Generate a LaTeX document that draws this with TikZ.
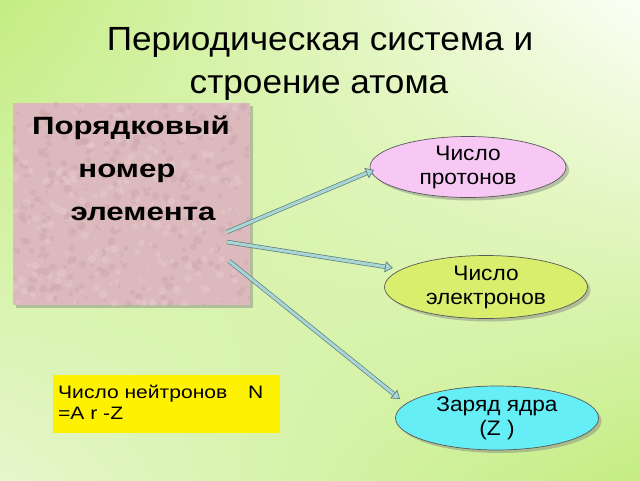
\documentclass[tikz,border=0pt]{standalone}
\usepackage{fontspec}
\setmainfont{Liberation Sans}
\newfontfamily\titlefont[FakeStretch=1.05]{Liberation Sans}
\newfontfamily\boxfont[FakeStretch=1.25]{Liberation Sans}
\newfontfamily\ovalfont[FakeStretch=1.08]{Liberation Sans}
\newfontfamily\yelfont[FakeStretch=1.17]{Liberation Sans}
\usetikzlibrary{shapes.geometric,shadows,arrows.meta,shadings}
\definecolor{bggreen}{HTML}{C4ED82}
\definecolor{bgwhite}{HTML}{FCFEF6}
\definecolor{bgmid}{HTML}{E6F7CC}
\definecolor{pinkbox}{HTML}{DBB9BD}
\definecolor{pinkdark}{HTML}{C9A2A8}
\definecolor{pinklight}{HTML}{E8CDD0}
\definecolor{protonfill}{HTML}{F8C8F4}
\definecolor{electronfill}{HTML}{D8EE6C}
\definecolor{chargefill}{HTML}{66EEF6}
\definecolor{arrowfill}{HTML}{A9D6D4}
\definecolor{arrowedge}{HTML}{5E7E80}
\tikzset{
  oval/.style={ellipse, draw=gray!70!black, line width=0.7pt, inner sep=0pt,
    minimum width=196pt, minimum height=61pt, align=center, font=\ovalfont\fontsize{21}{24}\selectfont,
    drop shadow={shadow xshift=3pt, shadow yshift=-3pt, opacity=0.45}},
  boldtxt/.style={font=\boxfont\bfseries\fontsize{25}{30}\selectfont, inner sep=0pt, anchor=base},
  titletxt/.style={font=\titlefont\fontsize{33.5}{40}\selectfont, inner sep=0pt, anchor=base},
  yeltxt/.style={font=\yelfont\fontsize{18}{22}\selectfont, inner sep=0pt, anchor=base west},
  conn/.style={draw=arrowedge, double=arrowfill, double distance=3pt, line width=0.7pt,
    -{Triangle[length=8pt,width=11pt,fill=arrowfill]}},
}
\begin{document}
\begin{tikzpicture}[x=1pt,y=-1pt]
\useasboundingbox (0,0) rectangle (640,480);
\shade[upper left=bggreen, upper right=bgwhite, lower left=bgmid, lower right=bggreen]
  (0,0) rectangle (640,480);
% title
\node[titletxt] (title1) at (320,50) {Периодическая система и};
\node[titletxt] (title2) at (319,93) {строение атома};
% pink box
\node[fill=pinkbox, minimum width=237pt, minimum height=202pt, inner sep=0pt,
  drop shadow={shadow xshift=3pt, shadow yshift=-3pt, opacity=0.45}] (box) at (131.5,204) {};
\begin{scope}
\clip (box.north west) rectangle (box.south east);
\pgfmathsetseed{7}
\foreach \i in {1,...,260}{
  \pgfmathsetmacro{\px}{13+237*rnd}
  \pgfmathsetmacro{\py}{103+202*rnd}
  \pgfmathsetmacro{\pr}{1.5+3*rnd}
  \fill[pinkdark, opacity=0.35] (\px,\py) circle (\pr);
}
\foreach \i in {1,...,200}{
  \pgfmathsetmacro{\px}{13+237*rnd}
  \pgfmathsetmacro{\py}{103+202*rnd}
  \pgfmathsetmacro{\pr}{1.5+3*rnd}
  \fill[pinklight, opacity=0.4] (\px,\py) circle (\pr);
}
\end{scope}
\node[boldtxt] (l1) at (131,134) {Порядковый};
\node[boldtxt] (l2) at (127,177) {номер};
\node[boldtxt] (l3) at (143,220) {элемента};
% ellipses
\node[oval, fill=protonfill] (prot) at (468,167) {Число\\протонов};
\node[oval, fill=electronfill, minimum width=203pt, minimum height=63pt] (elec) at (486,287) {Число\\электронов};
\node[oval, fill=chargefill, minimum width=203pt, minimum height=64pt] (charge) at (497,418) {Заряд ядра\\(Z )};
% yellow box
\node[fill=yellow, minimum width=227pt, minimum height=58pt, inner sep=0pt] (ybox) at (166.5,404) {};
\node[yeltxt] (y1) at (58,398) {Число нейтронов};
\node[yeltxt] (y2) at (248,398) {N};
\node[yeltxt] (y3) at (58,419) {=A r -Z};
% connectors
\coordinate (s1) at (227,232);
\coordinate (s2) at (227,242);
\coordinate (s3) at (229,261);
\coordinate (e1) at (374,170);
\coordinate (e2) at (393,268);
\coordinate (e3) at (400,399);
\draw[conn] (s1) -- (e1);
\draw[conn] (s2) -- (e2);
\draw[conn] (s3) -- (e3);
\end{tikzpicture}
\end{document}
